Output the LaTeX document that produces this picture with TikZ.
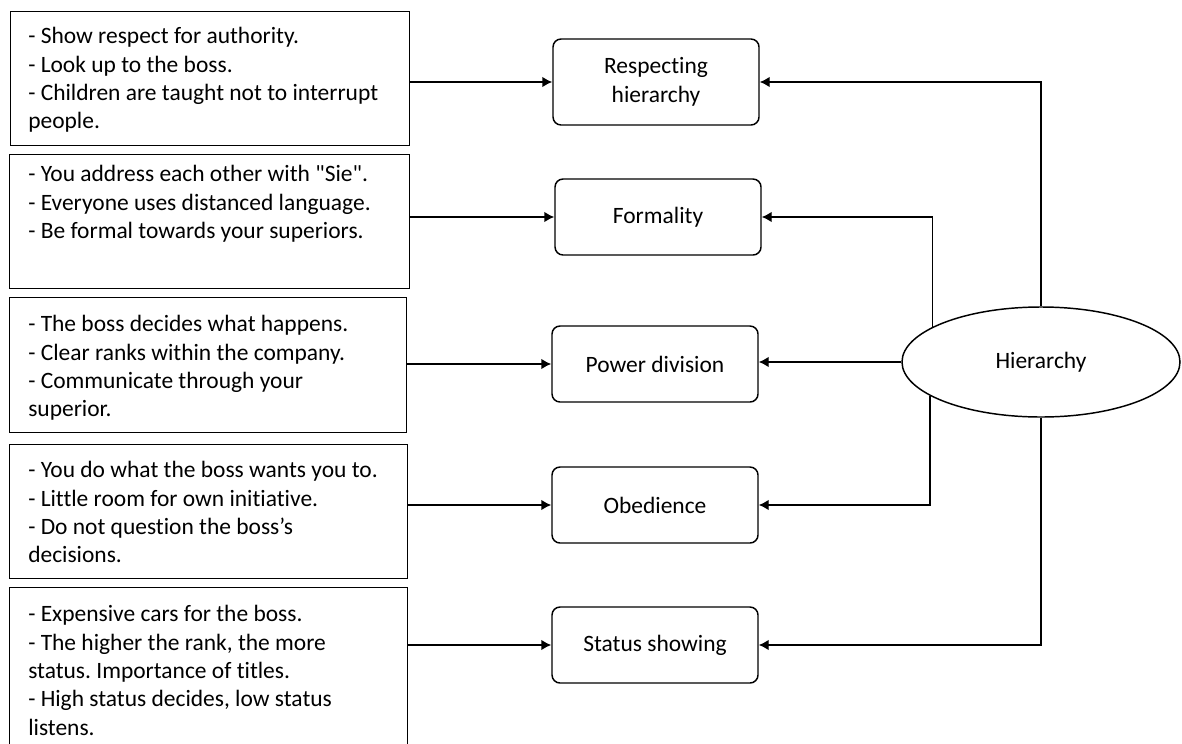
\documentclass[tikz,border=0pt]{standalone}
\usepackage{fontspec}
\setmainfont{Carlito}[Ligatures=NoCommon]
\frenchspacing
\usetikzlibrary{shapes.geometric,arrows.meta}
\tikzset{
  lbox/.style={draw, line width=1.1pt, rectangle, inner sep=0pt, anchor=north west},
  ltext/.style={inner sep=0pt, anchor=north west, align=left, font=\fontsize{17.6}{21.3}\selectfont},
  rbox/.style={draw, line width=1.1pt, rectangle, rounded corners=6pt, minimum width=154.5pt, minimum height=57pt, align=center, inner sep=0pt, font=\fontsize{17.6}{21.3}\selectfont},
  hell/.style={draw, line width=1.1pt, ellipse, minimum width=208.5pt, minimum height=82.5pt, inner sep=0pt, font=\fontsize{17.6}{21.3}\selectfont},
  arr/.style={line width=1.1pt, -{Latex[length=7.5pt,width=8pt]}}
}
\begin{document}
\begin{tikzpicture}[x=0.75pt,y=-0.75pt]
\useasboundingbox (0,0) rectangle (1182,743);
\clip (0,0) rectangle (1182,743);
% left boxes
\node[lbox, minimum width=299.25pt, minimum height=100.5pt] (b1) at (10,11) {};
\node[lbox, minimum width=300pt, minimum height=100.5pt] (b2) at (9,154) {};
\node[lbox, minimum width=297.75pt, minimum height=101.25pt] (b3) at (9,297) {};
\node[lbox, minimum width=298.5pt, minimum height=100.5pt] (b4) at (9,444) {};
\node[lbox, minimum width=298.5pt, minimum height=150pt] (b5) at (9,587) {};
% texts
\node[ltext] (t1) at (28,23.6) {\strut- Show respect for authority.\\- Look up to the boss.\\- Children are taught not to interrupt\\people.};
\node[ltext] (t2) at (28,161.6) {\strut- You address each other with \textquotedbl Sie\textquotedbl.\\- Everyone uses distanced language.\\- Be formal towards your superiors.};
\node[ltext] (t3) at (28,311.6) {\strut- The boss decides what happens.\\- Clear ranks within the company.\\- Communicate through your\\superior.};
\node[ltext] (t4) at (28,457.6) {\strut- You do what the boss wants you to.\\- Little room for own initiative.\\- Do not question the boss’s\\decisions.};
\node[ltext] (t5) at (28,601.6) {\strut- Expensive cars for the boss.\\- The higher the rank, the more\\status. Importance of titles.\\- High status decides, low status\\listens.};
% middle boxes
\node[rbox, minimum height=64.5pt] (resp) at (656,82) {Respecting\\hierarchy};
\node[rbox] (form) at (658,217) {Formality};
\node[rbox] (pow) at (655,364) {Power division};
\node[rbox] (obed) at (655,505) {Obedience};
\node[rbox] (stat) at (655,645) {Status showing};
% ellipse
\node[hell] (H) at (1041,362) {Hierarchy};
% left connectors
\draw[arr] (b1.east |- resp.west) -- (resp.west);
\draw[arr] (b2.east |- form.west) -- (form.west);
\draw[arr] (b3.east |- pow.west) -- (pow.west);
\draw[arr] (b4.east |- obed.west) -- (obed.west);
\draw[arr] (b5.east |- stat.west) -- (stat.west);
% right connectors
\draw[arr] (H.north) |- (resp.east);
\draw[arr] (H.162.7) |- (form.east);
\draw[arr] (H.west) -- (H.west -| pow.east);
\draw[arr] (H.197.3) |- (obed.east);
\draw[arr] (H.south) |- (stat.east);
\end{tikzpicture}
\end{document}
